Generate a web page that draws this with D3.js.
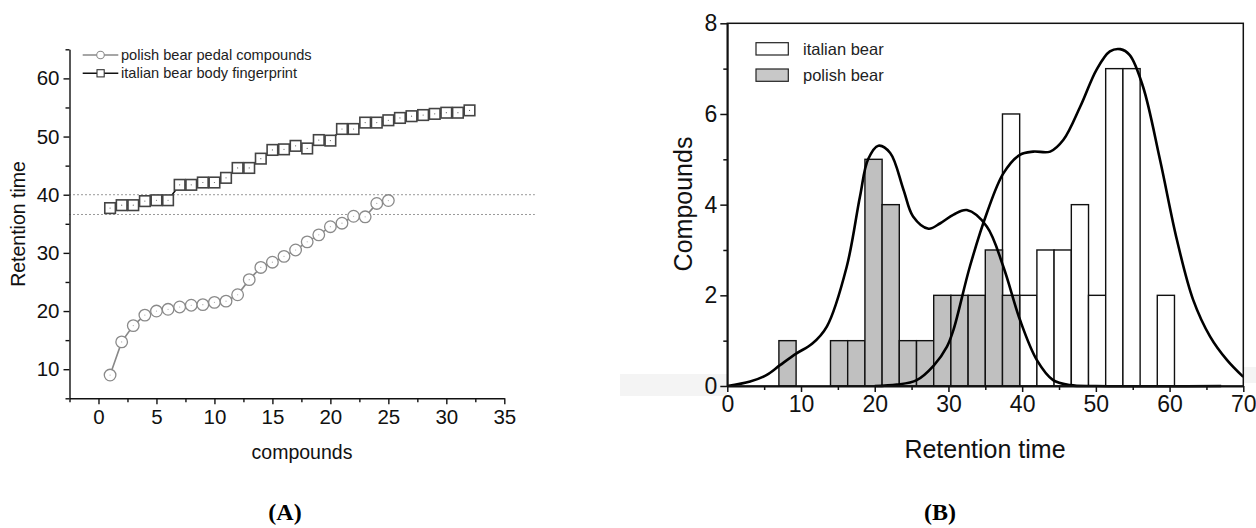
<!DOCTYPE html>
<html>
<head>
<meta charset="utf-8">
<script src="https://cdnjs.cloudflare.com/ajax/libs/d3/7.8.5/d3.min.js"></script>
<style>
body{margin:0;background:#fff;}
svg{display:block;font-family:Arial,"Liberation Sans",sans-serif;}
</style>
</head>
<body>
<svg id="chart"></svg>
<script>
//data
/*********panel A************/
var compoundIdx = d3.range(1, 33);
var polishRT = [9.0,14.7,17.5,19.3,20.0,20.3,20.7,21.0,21.1,21.5,21.7,22.8,25.4,27.5,28.4,29.4,30.5,31.9,33.1,34.5,35.1,36.3,36.2,38.5,39.0];
var italianRT = [37.7,38.2,38.2,38.9,39.05,39.05,41.7,41.7,42.1,42.1,42.9,44.6,44.6,46.2,47.7,47.8,48.4,47.95,49.4,49.3,51.3,51.3,52.4,52.4,52.8,53.2,53.5,53.7,53.9,54.1,54.1,54.5];
var refLines = [40, 36.6];
var xTicksA = [0,5,10,15,20,25,30,35];
var yTicksA = [10,20,30,40,50,60];
var legendA = ['polish bear pedal compounds','italian bear body fingerprint'];
/*********panel B************/
var binWidth = 70 / 30;
var polishBins = [7,14,16.33,18.67,21,23.33,25.67,28,30.33,32.67,35,37.33];
var polishCounts = [1,1,1,5,4,1,1,2,2,2,3,2];
var italianBins = [37.33,39.67,42,44.33,46.67,49,51.33,53.67,58.33];
var italianCounts = [6,2,3,3,4,2,7,7,2];
var polishCurve = [[0,0],[3.1,0.1],[5.3,0.24],[7.15,0.46],[9.4,0.72],[11.5,0.93],[13.5,1.31],[16.2,2.63],[18,4.18],[19.1,5.0],[20.5,5.3],[22.1,5.14],[23.9,4.33],[25.2,3.74],[27.3,3.47],[28.9,3.59],[30.7,3.78],[32.5,3.88],[35.2,3.52],[37.45,2.63],[39.7,1.46],[42,0.57],[44.2,0.13],[46.5,0.02],[50,0],[67,0]];
var italianCurve = [[20,0],[23,0.03],[25.7,0.13],[28,0.45],[29.8,0.87],[30.7,1.25],[32.9,2.63],[35.2,3.81],[37.45,4.69],[39.7,5.1],[41.5,5.17],[43.8,5.17],[45.6,5.43],[47.9,6.17],[50.1,6.98],[51.9,7.38],[53.3,7.43],[54.6,7.3],[56.4,6.6],[58.7,4.99],[61,3.22],[63.2,1.9],[65.5,1.09],[67.8,0.57],[70,0.2]];
var xTicksB = [0,10,20,30,40,50,60,70];
var yTicksB = [0,2,4,6,8];
var legendB = ['italian bear','polish bear'];

var width = 1256;
var height = 528;
var svg = d3.select('#chart').attr('width',width).attr('height',height);

/*********panel A************/
var xA = d3.scaleLinear().domain([-2.5,35]).range([69.5,504.3]);
var yA = d3.scaleLinear().domain([5,65]).range([398.3,49.3]);
var gA = svg.append('g');

//axes
var axXA = gA.append('g').attr('transform','translate(0,398.3)')
	.call(d3.axisBottom(xA).tickValues(xTicksA).tickSize(6).tickSizeOuter(0).tickPadding(5));
gA.append('g').attr('transform','translate(0,398.3)')
	.call(d3.axisBottom(xA).tickValues(d3.range(-2.5,35,5)).tickSize(4).tickFormat(''))
	.select('.domain').remove();
var axYA = gA.append('g').attr('transform','translate(69.5,0)')
	.call(d3.axisLeft(yA).tickValues(yTicksA).tickSize(6).tickSizeOuter(0).tickPadding(4));
gA.append('g').attr('transform','translate(69.5,0)')
	.call(d3.axisLeft(yA).tickValues(d3.range(5,66,10)).tickSize(4).tickFormat(''))
	.select('.domain').remove();
gA.selectAll('.domain').attr('stroke','#111').attr('stroke-width',1.4);
gA.selectAll('.tick line').attr('stroke','#111').attr('stroke-width',1.4);
axXA.selectAll('text').attr('font-size',20.5).attr('fill','#111');
axYA.selectAll('text').attr('font-size',20.5).attr('fill','#111');

gA.append('text').attr('x',302).attr('y',459).attr('text-anchor','middle')
	.attr('font-size',19.5).attr('fill','#111').text('compounds');
gA.append('text').attr('transform','translate(25,224) rotate(-90)').attr('text-anchor','middle')
	.attr('font-size',19.5).attr('fill','#111').text('Retention time');

//dotted reference lines
gA.selectAll('.ref').data(refLines).enter().append('line')
	.attr('x1',xA(-2.5)).attr('x2',xA(37.6))
	.attr('y1',function(d){return yA(d);}).attr('y2',function(d){return yA(d);})
	.attr('stroke','#333').attr('stroke-width',1).attr('stroke-dasharray','1,3');

//series
var lineA = d3.line().x(function(d,i){return xA(compoundIdx[i]);}).y(function(d){return yA(d);});
gA.append('path').datum(polishRT).attr('d',lineA).attr('fill','none').attr('stroke','#888').attr('stroke-width',1.6);
gA.append('path').datum(italianRT).attr('d',lineA).attr('fill','none').attr('stroke','#111').attr('stroke-width',1.6);

gA.selectAll('.pc').data(polishRT).enter().append('circle')
	.attr('cx',function(d,i){return xA(compoundIdx[i]);}).attr('cy',function(d){return yA(d);})
	.attr('r',5.8).attr('fill','#fff').attr('stroke','#8a8a8a').attr('stroke-width',1.3);
gA.selectAll('.pd').data(polishRT).enter().append('circle')
	.attr('cx',function(d,i){return xA(compoundIdx[i]);}).attr('cy',function(d){return yA(d);})
	.attr('r',0.6).attr('fill','#aaa');
gA.selectAll('.sq').data(italianRT).enter().append('rect')
	.attr('x',function(d,i){return xA(compoundIdx[i])-5.3;}).attr('y',function(d){return yA(d)-5.3;})
	.attr('width',10.6).attr('height',10.6).attr('fill','#fff').attr('stroke','#444').attr('stroke-width',1.6);
gA.selectAll('.sd').data(italianRT).enter().append('circle')
	.attr('cx',function(d,i){return xA(compoundIdx[i]);}).attr('cy',function(d){return yA(d);})
	.attr('r',0.6).attr('fill','#666');

//legend A
var legA = gA.append('g');
legendA.forEach(function(t,i){
	var y = 55 + i*18.3;
	legA.append('line').attr('x1',82.7).attr('x2',118.3).attr('y1',y).attr('y2',y)
		.attr('stroke',i==0?'#888':'#111').attr('stroke-width',1.6);
	if(i==0){
		legA.append('circle').attr('cx',100.5).attr('cy',y).attr('r',3.8).attr('fill','#fff').attr('stroke','#8a8a8a').attr('stroke-width',1.1);
	}else{
		legA.append('rect').attr('x',97).attr('y',y-3.6).attr('width',7.2).attr('height',7.2).attr('fill','#fff').attr('stroke','#333').attr('stroke-width',1.1);
	}
	legA.append('text').attr('x',121).attr('y',y+5).attr('font-size',14.6).attr('fill','#222').text(t);
});

/*********panel B************/
var xB = d3.scaleLinear().domain([0,70]).range([727.3,1243.3]);
var yB = d3.scaleLinear().domain([0,8]).range([386,23.3]);
var gB = svg.append('g');

//faint background band
gB.append('rect').attr('x',620).attr('y',374).attr('width',107).attr('height',22).attr('fill','#f4f4f4');
gB.append('rect').attr('x',1244).attr('y',367).attr('width',12).attr('height',16).attr('fill','#f4f4f4');

//bars: italian first, polish on top
gB.selectAll('.bi').data(italianBins).enter().append('rect')
	.attr('x',function(d){return xB(d);}).attr('width',function(d){return xB(d+binWidth)-xB(d);})
	.attr('y',function(d,i){return yB(italianCounts[i]);}).attr('height',function(d,i){return yB(0)-yB(italianCounts[i]);})
	.attr('fill','#fff').attr('stroke','#111').attr('stroke-width',1.4);
gB.selectAll('.bp').data(polishBins).enter().append('rect')
	.attr('x',function(d){return xB(d);}).attr('width',function(d){return xB(d+binWidth)-xB(d);})
	.attr('y',function(d,i){return yB(polishCounts[i]);}).attr('height',function(d,i){return yB(0)-yB(polishCounts[i]);})
	.attr('fill','#c0c0c0').attr('stroke','#111').attr('stroke-width',1.4);

//density curves
var lineB = d3.line().x(function(d){return xB(d[0]);}).y(function(d){return yB(d[1]);}).curve(d3.curveCatmullRom.alpha(0.5));
gB.append('path').datum(polishCurve).attr('d',lineB).attr('fill','none').attr('stroke','#000').attr('stroke-width',2.6);
gB.append('path').datum(italianCurve).attr('d',lineB).attr('fill','none').attr('stroke','#000').attr('stroke-width',2.6);

//frame
gB.append('rect').attr('x',xB(0)).attr('y',yB(8)).attr('width',xB(70)-xB(0)).attr('height',yB(0)-yB(8))
	.attr('fill','none').attr('stroke','#111').attr('stroke-width',1.5);

//axes
var axXB = gB.append('g').attr('transform','translate(0,386)')
	.call(d3.axisBottom(xB).tickValues(xTicksB).tickSize(6).tickSizeOuter(0).tickPadding(4));
gB.append('g').attr('transform','translate(0,386)')
	.call(d3.axisBottom(xB).tickValues(d3.range(5,70,10)).tickSize(4).tickFormat(''))
	.select('.domain').remove();
var axYB = gB.append('g').attr('transform','translate(727.3,0)')
	.call(d3.axisLeft(yB).tickValues(yTicksB).tickSize(7).tickSizeOuter(0).tickPadding(3));
gB.append('g').attr('transform','translate(727.3,0)')
	.call(d3.axisLeft(yB).tickValues([1,3,5,7]).tickSize(4).tickFormat(''))
	.select('.domain').remove();
gB.selectAll('.domain').attr('stroke','#111').attr('stroke-width',1.8);
gB.selectAll('.tick line').attr('stroke','#111').attr('stroke-width',1.5);
axXB.selectAll('text').attr('font-size',23).attr('fill','#111');
axYB.selectAll('text').attr('font-size',23).attr('fill','#111');

gB.append('text').attr('x',985).attr('y',458).attr('text-anchor','middle')
	.attr('font-size',25).attr('fill','#111').text('Retention time');
gB.append('text').attr('transform','translate(692,204) rotate(-90)').attr('text-anchor','middle')
	.attr('font-size',25).attr('fill','#111').text('Compounds');

//legend B
legendB.forEach(function(t,i){
	var y = 42.7 + i*26.3;
	gB.append('rect').attr('x',756).attr('y',y).attr('width',32.3).attr('height',12.3)
		.attr('fill',i==0?'#fff':'#c8c8c8').attr('stroke','#222').attr('stroke-width',1.2);
	gB.append('text').attr('x',803).attr('y',y+12.3).attr('font-size',16.5).attr('fill','#222').text(t);
});

/*********panel labels************/
svg.append('text').attr('x',285).attr('y',520).attr('text-anchor','middle')
	.attr('font-family','"Times New Roman","Liberation Serif",serif').attr('font-weight','bold').attr('font-size',24).text('(A)');
svg.append('text').attr('x',940).attr('y',520).attr('text-anchor','middle')
	.attr('font-family','"Times New Roman","Liberation Serif",serif').attr('font-weight','bold').attr('font-size',24).text('(B)');
</script>
</body>
</html>
